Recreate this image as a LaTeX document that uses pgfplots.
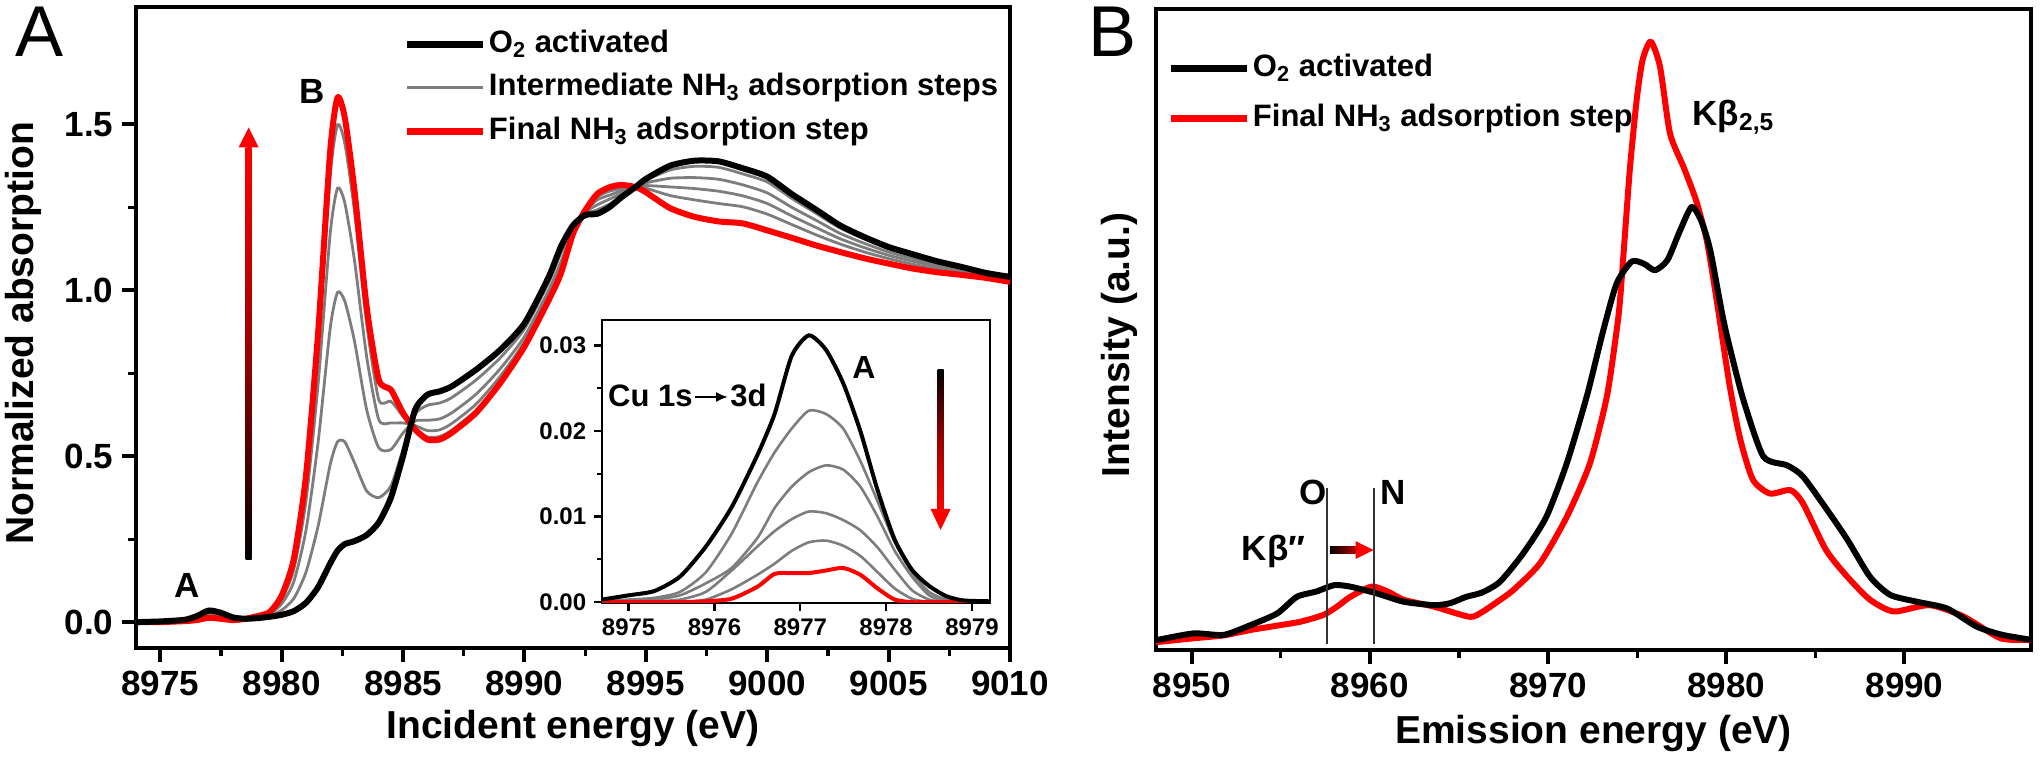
\documentclass[border=0pt]{standalone}
\usepackage{fontspec}
\setmainfont{Liberation Sans}
\usepackage{pgfplots}
\usepackage{pgfplotstable}
\pgfplotsset{compat=1.18}
\usetikzlibrary{arrows.meta}
\definecolor{mygray}{RGB}{125,125,125}
\definecolor{myred}{RGB}{255,0,0}

\pgfplotstableread{
x b ga gb gc gd r
8974 0.000 0.000 0.000 0.000 0.000 0.000
8975 0.002 0.002 0.001 0.001 0.001 0.000
8976 0.007 0.006 0.005 0.004 0.003 0.003
8976.5 0.018 0.015 0.011 0.009 0.007 0.006
8977 0.035 0.030 0.023 0.018 0.015 0.013
8977.5 0.028 0.024 0.018 0.014 0.011 0.010
8978 0.014 0.012 0.009 0.008 0.006 0.006
8978.5 0.010 0.010 0.010 0.010 0.010 0.010
8979 0.012 0.013 0.015 0.017 0.018 0.018
8979.5 0.016 0.019 0.024 0.027 0.029 0.030
8980 0.022 0.036 0.055 0.068 0.077 0.080
8980.5 0.033 0.071 0.122 0.159 0.181 0.190
8981 0.058 0.150 0.276 0.364 0.417 0.440
8981.5 0.105 0.289 0.541 0.717 0.824 0.870
8982 0.177 0.475 0.886 1.171 1.345 1.420
8982.3 0.215 0.543 0.993 1.307 1.498 1.580
8982.6 0.235 0.543 0.967 1.263 1.443 1.520
8983 0.244 0.480 0.846 1.089 1.237 1.300
8983.5 0.262 0.395 0.640 0.800 0.900 0.950
8984 0.300 0.375 0.525 0.610 0.670 0.730
8984.5 0.375 0.410 0.520 0.600 0.665 0.700
8985 0.500 0.520 0.570 0.600 0.620 0.630
8985.5 0.640 0.626 0.606 0.592 0.584 0.580
8986 0.685 0.653 0.608 0.577 0.558 0.550
8986.5 0.695 0.660 0.612 0.579 0.559 0.550
8987 0.710 0.676 0.630 0.598 0.578 0.570
8988 0.760 0.729 0.686 0.656 0.638 0.630
8989 0.820 0.796 0.763 0.740 0.726 0.720
8990 0.900 0.883 0.860 0.844 0.834 0.830
8991 1.040 1.023 1.000 0.984 0.974 0.970
8991.5 1.131 1.112 1.085 1.066 1.055 1.050
8992 1.195 1.189 1.181 1.175 1.172 1.170
8992.5 1.226 1.229 1.234 1.237 1.239 1.240
8993 1.230 1.242 1.257 1.272 1.281 1.290
8993.5 1.250 1.259 1.274 1.286 1.298 1.310
8994 1.280 1.284 1.291 1.299 1.306 1.317
8994.6 1.312 1.311 1.311 1.311 1.311 1.310
8995 1.335 1.331 1.323 1.315 1.307 1.295
8996 1.375 1.362 1.337 1.311 1.285 1.247
8997 1.390 1.373 1.339 1.306 1.272 1.221
8998 1.388 1.370 1.334 1.298 1.261 1.207
8999 1.367 1.350 1.317 1.284 1.251 1.201
9000 1.342 1.326 1.293 1.261 1.229 1.180
9001 1.290 1.277 1.250 1.224 1.198 1.158
9002 1.243 1.232 1.211 1.189 1.167 1.135
9003 1.195 1.187 1.171 1.155 1.139 1.115
9004 1.160 1.154 1.141 1.128 1.115 1.096
9005 1.130 1.125 1.115 1.105 1.095 1.080
9006 1.108 1.104 1.095 1.087 1.078 1.065
9007 1.087 1.084 1.077 1.071 1.064 1.054
9008 1.070 1.068 1.063 1.058 1.053 1.046
9009 1.052 1.051 1.048 1.045 1.042 1.037
9010 1.040 1.039 1.036 1.033 1.030 1.025
}\dataA

\pgfplotstableread{
x b ga gb gc gd r
8974.69 0.0003 0.0001 0.0000 0.0000 0.0000 0.0000
8975.0 0.0008 0.0003 0.0001 0.0000 0.0000 0.0000
8975.3 0.0013 0.0005 0.0003 0.0001 0.0000 0.0000
8975.6 0.0030 0.0012 0.0008 0.0003 0.0000 0.0000
8975.9 0.0065 0.0035 0.0022 0.0012 0.0003 0.0001
8976.2 0.0111 0.0080 0.0040 0.0037 0.0015 0.0004
8976.5 0.0172 0.0140 0.0075 0.0065 0.0032 0.0018
8976.7 0.0220 0.0175 0.0110 0.0083 0.0045 0.0033
8976.9 0.0288 0.0203 0.0135 0.0097 0.0060 0.0034
8977.1 0.0312 0.0224 0.0152 0.0106 0.0070 0.0034
8977.3 0.0295 0.0220 0.0160 0.0104 0.0072 0.0037
8977.5 0.0256 0.0203 0.0155 0.0096 0.0066 0.0040
8977.7 0.0200 0.0165 0.0135 0.0084 0.0054 0.0032
8977.9 0.0131 0.0118 0.0100 0.0064 0.0035 0.0016
8978.1 0.0073 0.0070 0.0060 0.0038 0.0016 0.0003
8978.3 0.0038 0.0035 0.0030 0.0014 0.0004 0.0000
8978.5 0.0019 0.0012 0.0008 0.0003 0.0000 0.0000
8978.7 0.0007 0.0003 0.0001 0.0000 0.0000 0.0000
8978.9 0.0002 0.0000 0.0000 0.0000 0.0000 0.0000
8979.21 0.0001 0.0000 0.0000 0.0000 0.0000 0.0000
}\dataInset

\pgfplotstableread{
x y
8948.0 0.20
8950.1 0.34
8951.8 0.31
8953.3 0.51
8954.8 0.75
8955.9 1.09
8957.0 1.20
8958.0 1.33
8958.9 1.30
8960.4 1.16
8961.9 0.99
8963.6 0.92
8964.5 0.96
8965.4 1.09
8966.3 1.18
8967.3 1.40
8968.6 1.98
8969.9 2.73
8971.05 3.83
8972.17 5.20
8973.1 6.56
8973.85 7.52
8974.7 7.97
8975.4 7.92
8976.0 7.79
8976.7 8.00
8977.4 8.60
8978.06 9.09
8978.6 8.80
8979.1 8.20
8979.8 6.84
8980.2 6.20
8980.96 5.13
8982.08 3.97
8983.4 3.79
8984.3 3.56
8985.8 2.80
8986.8 2.26
8988.07 1.50
8989.2 1.13
8990.7 0.99
8992.4 0.85
8994.05 0.48
8995.5 0.31
8997.1 0.21
}\dataBblack

\pgfplotstableread{
x y
8948.0 0.16
8950.1 0.24
8951.8 0.30
8953.3 0.41
8954.8 0.50
8956.1 0.58
8957.4 0.72
8958.2 0.90
8958.9 1.09
8960.1 1.30
8961.0 1.20
8961.9 1.03
8963.6 0.89
8965.6 0.68
8966.3 0.78
8967.2 1.00
8968.05 1.23
8969.55 1.78
8971.05 2.73
8972.35 3.83
8973.3 5.20
8973.85 6.56
8974.04 7.18
8974.32 8.55
8974.6 9.91
8974.97 11.28
8975.3 12.10
8975.76 12.48
8976.28 11.97
8976.84 10.60
8977.6 9.91
8978.3 9.23
8978.9 8.41
8979.46 7.18
8980.2 5.40
8980.8 4.30
8981.5 3.49
8982.45 3.21
8983.6 3.28
8984.3 3.01
8985.6 2.05
8986.8 1.50
8988.07 1.03
8989.4 0.79
8991.4 0.92
8993.3 0.69
8995.4 0.24
8997.1 0.21
}\dataBred

\newcommand{\tickfont}{\bfseries\fontsize{17.5}{20}\selectfont}
\newcommand{\labfont}{\bfseries\fontsize{19.5}{22}\selectfont}
\newcommand{\legfont}{\bfseries\fontsize{15.5}{18}\selectfont}

\pgfplotsset{
  mystyle/.style={
    scale only axis,
    line width=2pt,
    tick align=outside,
    tick pos=left,
    major tick length=7pt,
    minor tick length=4pt,
    major tick style={line width=2pt, black},
    minor tick style={line width=1.6pt, black},
    /pgf/number format/assume math mode=true,
    tick label style={font=\tickfont},
    x tick label style={/pgf/number format/1000 sep={}},
    label style={font=\labfont},
    legend cell align=left,
    legend image code/.code={\draw[##1] (0pt,0pt) -- (38pt,0pt);},
  }
}

\begin{document}
\begin{tikzpicture}
% ---------------- Panel A ----------------
\begin{axis}[mystyle,
  at={(0pt,0pt)}, anchor=south west,
  width=437pt, height=320.5pt,
  xmin=8974, xmax=9010, ymin=-0.078, ymax=1.853,
  xtick={8975,8980,...,9010}, ytick={0,0.5,1,1.5},
  minor x tick num=1, minor y tick num=1,
  y tick label style={/pgf/number format/.cd, fixed, fixed zerofill, precision=1},
  xlabel={Incident energy (eV)},
  ylabel={Normalized absorption},
  xlabel style={at={(axis description cs:0.5,0)}, anchor=center, yshift=-40.5pt},
  ylabel style={at={(axis description cs:0,0.491)}, anchor=center, yshift=56.5pt},
  legend style={at={(axis description cs:0.3043,0.970)}, anchor=north west,
    draw=none, fill=none, font=\legfont, row sep=5.75pt, inner sep=0pt,
    nodes={text height=11pt, text depth=3pt, inner sep=1pt}},
]
\addlegendimage{black, line width=3.5pt}
\addlegendentry{O\textsubscript{2} activated}
\addlegendimage{mygray, line width=1.4pt}
\addlegendentry{Intermediate NH\textsubscript{3} adsorption steps}
\addlegendimage{myred, line width=3.5pt}
\addlegendentry{Final NH\textsubscript{3} adsorption step}

\addplot[forget plot, mygray, line width=1.4pt, smooth, tension=0.4] table[x=x, y=ga] {\dataA};
\addplot[forget plot, mygray, line width=1.4pt, smooth, tension=0.4] table[x=x, y=gb] {\dataA};
\addplot[forget plot, mygray, line width=1.4pt, smooth, tension=0.4] table[x=x, y=gc] {\dataA};
\addplot[forget plot, mygray, line width=1.4pt, smooth, tension=0.4] table[x=x, y=gd] {\dataA};
\addplot[forget plot, myred, line width=3pt, smooth, tension=0.4, line join=round] table[x=x, y=r] {\dataA};
\addplot[forget plot, black, line width=3pt, smooth, tension=0.4, line join=round] table[x=x, y=b] {\dataA};

% gradient arrow
\shade[bottom color=black, top color=myred, middle color=black!40!myred]
  ([xshift=-1.5pt]axis cs:8978.64,0.19) rectangle ([xshift=1.5pt]axis cs:8978.64,1.43);
\fill[myred] ([xshift=-5pt]axis cs:8978.64,1.43) -- ([xshift=5pt]axis cs:8978.64,1.43)
  -- (axis cs:8978.64,1.49) -- cycle;
\node[font=\tickfont] at (axis cs:8976.1,0.109) {A};
\node[font=\tickfont] at (axis cs:8981.27,1.60) {B};
\end{axis}

% ---------------- Inset ----------------
\begin{axis}[mystyle,
  at={(233pt,22.5pt)}, anchor=south west,
  width=194pt, height=141.5pt,
  line width=1.2pt,
  axis background/.style={fill=white},
  xmin=8974.69, xmax=8979.21, ymin=-0.0001, ymax=0.033,
  xtick={8975,8976,...,8979}, ytick={0,0.01,0.02,0.03},
  minor x tick num=1, minor y tick num=1,
  major tick length=4pt, minor tick length=2.5pt,
  major tick style={line width=1.2pt, black},
  minor tick style={line width=1pt, black},
  tick label style={font=\bfseries\fontsize{12}{14}\selectfont},
  y tick label style={/pgf/number format/.cd, fixed, fixed zerofill, precision=2},
  scaled y ticks=false,
]
\addplot[mygray, line width=1.3pt, smooth, tension=0.4] table[x=x, y=ga] {\dataInset};
\addplot[mygray, line width=1.3pt, smooth, tension=0.4] table[x=x, y=gb] {\dataInset};
\addplot[mygray, line width=1.3pt, smooth, tension=0.4] table[x=x, y=gc] {\dataInset};
\addplot[mygray, line width=1.3pt, smooth, tension=0.4] table[x=x, y=gd] {\dataInset};
\addplot[myred, line width=2pt, smooth, tension=0.4] table[x=x, y=r] {\dataInset};
\addplot[black, line width=2pt, smooth, tension=0.4] table[x=x, y=b] {\dataInset};
\end{axis}

% inset annotations (absolute positions; inset SW at (233pt,22.5pt))
\shade[top color=black, bottom color=myred, middle color=black!40!myred]
  (400.8pt,139pt) rectangle (403.8pt,69pt);
\fill[myred] (397.3pt,69.5pt) -- (407.3pt,69.5pt) -- (402.3pt,59pt) -- cycle;
\node[font=\bfseries\fontsize{16}{18}\selectfont] at (364pt,140pt) {A};
\node[font=\bfseries\fontsize{15.5}{18}\selectfont, inner sep=0pt, anchor=base east] at (278.5pt,120.5pt) {Cu 1s};
\draw[line width=1pt, -{Latex[length=6pt,width=5pt]}] (279.5pt,125.5pt) -- (296pt,125.5pt);
\node[font=\bfseries\fontsize{15.5}{18}\selectfont, inner sep=0pt, anchor=base west] at (297pt,120.5pt) {3d};

% ---------------- Panel B ----------------
\begin{axis}[mystyle,
  at={(510pt,-1pt)}, anchor=south west,
  width=437.5pt, height=320.5pt,
  xmin=8948, xmax=8997.1, ymin=0, ymax=13.15,
  xtick={8950,8960,...,8990}, minor x tick num=1,
  ytick=\empty,
  xlabel={Emission energy (eV)},
  ylabel={Intensity (a.u.)},
  xlabel style={at={(axis description cs:0.5,0)}, anchor=center, yshift=-42pt},
  ylabel style={at={(axis description cs:0,0.476)}, anchor=center, yshift=18.5pt},
  legend style={at={(axis description cs:0.0114,0.936)}, anchor=north west,
    draw=none, fill=none, font=\legfont, row sep=9pt, inner sep=0pt,
    nodes={text height=11pt, text depth=3pt, inner sep=1pt}},
]
\addplot[myred, line width=3pt, smooth, tension=0.4, line join=round] table[x=x, y=y] {\dataBred};
\addplot[black, line width=3pt, smooth, tension=0.4, line join=round] table[x=x, y=y] {\dataBblack};
\addlegendimage{black, line width=3.5pt}
\addlegendimage{myred, line width=3.5pt}
\legend{,,O\textsubscript{2} activated, Final NH\textsubscript{3} adsorption step}
\draw[line width=0.9pt, black!80] (axis cs:8957.6,0.13) -- (axis cs:8957.6,3.33);
\draw[line width=0.9pt, black!80] (axis cs:8960.25,0.13) -- (axis cs:8960.25,3.33);
\node[font=\tickfont] at (axis cs:8956.8,3.23) {O};
\node[font=\tickfont] at (axis cs:8961.3,3.23) {N};
\node[font=\tickfont] at (axis cs:8954.6,2.03) {Kβ″};
\shade[left color=black, right color=black!30!myred]
  ([yshift=-1.6pt]axis cs:8957.75,2.05) rectangle ([yshift=1.6pt]axis cs:8959.2,2.05);
\fill[myred] ([yshift=-4.5pt]axis cs:8959.2,2.05) -- ([yshift=4.5pt]axis cs:8959.2,2.05)
  -- (axis cs:8960.2,2.05) -- cycle;
\node[font=\tickfont] at (axis cs:8980.4,10.93) {Kβ\textsubscript{2,5}};
\end{axis}

\node[font=\fontsize{36}{40}\selectfont] at (-48pt,308pt) {A};
\node[font=\fontsize{36}{40}\selectfont] at (488.5pt,308pt) {B};

\pgfresetboundingbox
\useasboundingbox (-68pt,-58pt) rectangle (952pt,324pt);
\end{tikzpicture}
\end{document}
